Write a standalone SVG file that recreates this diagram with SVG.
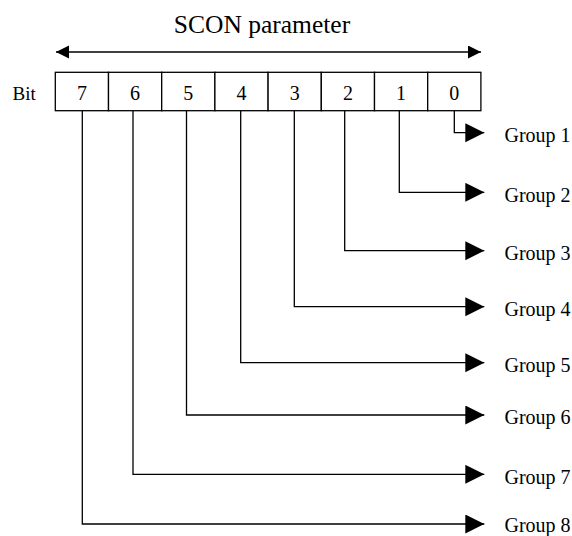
<svg xmlns="http://www.w3.org/2000/svg" width="572" height="536" viewBox="0 0 572 536" font-family="'Liberation Serif', 'DejaVu Serif', serif">
<style>
text{font-family:'Liberation Serif','DejaVu Serif',serif;fill:#000}
.ln{fill:none;stroke:#000;stroke-width:1.3}
.cell{fill:#fff;stroke:#000;stroke-width:1.3}
</style>
<defs>
<marker id="ah" markerUnits="userSpaceOnUse" markerWidth="20" markerHeight="20" refX="19" refY="9.5" orient="auto"><path d="M0,0 L19,9.5 L0,19 Z" fill="#000"/></marker>
<marker id="sh" markerUnits="userSpaceOnUse" markerWidth="14" markerHeight="14" refX="13" refY="6.5" orient="auto-start-reverse"><path d="M0,0 L13,6.5 L0,13 Z" fill="#000"/></marker>
</defs>
<rect width="572" height="536" fill="#fff"/>
<text x="262" y="32.5" font-size="25.5" text-anchor="middle">SCON parameter</text>
<text x="12.5" y="100" font-size="19">Bit</text>
<g id="register">
<g id="bit7"><rect class="cell" x="55.3" y="72.3" width="53.2" height="38.4"/><text x="81.9" y="100" font-size="20" text-anchor="middle">7</text></g>
<g id="bit6"><rect class="cell" x="108.5" y="72.3" width="53.2" height="38.4"/><text x="135.1" y="100" font-size="20" text-anchor="middle">6</text></g>
<g id="bit5"><rect class="cell" x="161.7" y="72.3" width="53.2" height="38.4"/><text x="188.3" y="100" font-size="20" text-anchor="middle">5</text></g>
<g id="bit4"><rect class="cell" x="214.9" y="72.3" width="53.2" height="38.4"/><text x="241.5" y="100" font-size="20" text-anchor="middle">4</text></g>
<g id="bit3"><rect class="cell" x="268.1" y="72.3" width="53.2" height="38.4"/><text x="294.7" y="100" font-size="20" text-anchor="middle">3</text></g>
<g id="bit2"><rect class="cell" x="321.3" y="72.3" width="53.2" height="38.4"/><text x="347.9" y="100" font-size="20" text-anchor="middle">2</text></g>
<g id="bit1"><rect class="cell" x="374.5" y="72.3" width="53.2" height="38.4"/><text x="401.1" y="100" font-size="20" text-anchor="middle">1</text></g>
<g id="bit0"><rect class="cell" x="427.7" y="72.3" width="53.2" height="38.4"/><text x="454.3" y="100" font-size="20" text-anchor="middle">0</text></g>
</g>
<g id="groups" font-size="20">
<text id="g1" x="504.5" y="142">Group 1</text>
<text id="g2" x="504.5" y="201.6">Group 2</text>
<text id="g3" x="504.5" y="260">Group 3</text>
<text id="g4" x="504.5" y="316">Group 4</text>
<text id="g5" x="504.5" y="372">Group 5</text>
<text id="g6" x="504.5" y="424.3">Group 6</text>
<text id="g7" x="504.5" y="483.6">Group 7</text>
<text id="g8" x="504.5" y="531.5">Group 8</text>
</g>
<g id="connectors">
<line class="ln" x1="56" y1="52" x2="481" y2="52" marker-start="url(#sh)" marker-end="url(#sh)"/>
<polyline class="ln" points="454.3,110.7 454.3,132.7 484.3,132.7" marker-end="url(#ah)"/>
<polyline class="ln" points="399.3,110.7 399.3,192.3 484.3,192.3" marker-end="url(#ah)"/>
<polyline class="ln" points="344.7,110.7 344.7,250.7 484.3,250.7" marker-end="url(#ah)"/>
<polyline class="ln" points="294.3,110.7 294.3,306.7 484.3,306.7" marker-end="url(#ah)"/>
<polyline class="ln" points="240.7,110.7 240.7,362.7 484.3,362.7" marker-end="url(#ah)"/>
<polyline class="ln" points="186.5,110.7 186.5,415 484.3,415" marker-end="url(#ah)"/>
<polyline class="ln" points="133,110.7 133,474.3 484.3,474.3" marker-end="url(#ah)"/>
<polyline class="ln" points="82.3,110.7 82.3,524 484.3,524" marker-end="url(#ah)"/>
</g>
</svg>
